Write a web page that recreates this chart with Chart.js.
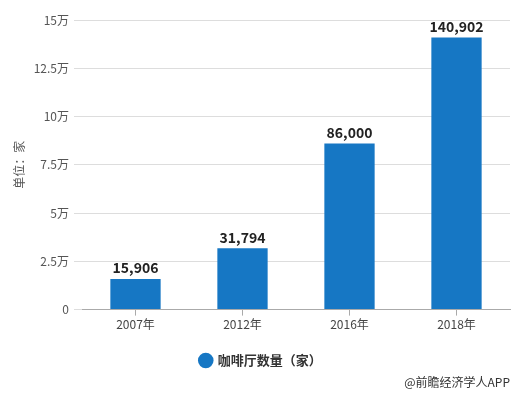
<!DOCTYPE html>
<html>
<head>
<meta charset="utf-8">
<script src="https://cdn.jsdelivr.net/npm/chart.js@4/dist/chart.umd.min.js"></script>
<style>
    html, body { margin: 0; padding: 0; background: #fff; }
    #wrap { position: relative; width: 517px; height: 395px; }
</style>
</head>
<body>
<div id="wrap"><canvas id="coffeeChart" width="517" height="395"></canvas></div>
<script>
// Chart data
const years = ['2007年', '2012年', '2016年', '2018年'];
const shopCounts = [15906, 31794, 86000, 140902];
const yTicks = [0, 25000, 50000, 75000, 100000, 125000, 150000];

const seriesName = '咖啡厅数量（家）';
const yTitle = '单位：家';
const sourceNote = '@前瞻经济学人APP';

const fontFamily = '"Microsoft YaHei", "Noto Sans CJK SC", "Noto Sans", sans-serif';

// Value labels above bars + source note
const labelPlugin = {
    id: 'barLabels',
    afterDatasetsDraw(chart) {
        const ctx = chart.ctx;
        const meta = chart.getDatasetMeta(0);
        ctx.save();
        ctx.font = 'bold 14px ' + fontFamily;
        ctx.textAlign = 'center';
        ctx.textBaseline = 'bottom';
        ctx.fillStyle = '#222';
        meta.data.forEach((bar, i) => {
            ctx.fillText(shopCounts[i].toLocaleString('en-US'), bar.x, bar.y - 4);
        });
        ctx.font = '12px ' + fontFamily;
        ctx.textAlign = 'right';
        ctx.textBaseline = 'middle';
        ctx.fillStyle = '#333';
        ctx.fillText(sourceNote, 510, 382);
        ctx.restore();
    }
};

new Chart(document.getElementById('coffeeChart'), {
    type: 'bar',
    data: {
        labels: years,
        datasets: [{
            label: seriesName,
            data: shopCounts,
            backgroundColor: '#1677c4',
            borderWidth: 0,
            categoryPercentage: 1,
            barPercentage: 0.47
        }]
    },
    options: {
        responsive: false,
        animation: false,
        layout: {
            padding: { top: 20, right: 7, bottom: 18, left: 12 }
        },
        plugins: {
            legend: {
                position: 'bottom',
                labels: {
                    usePointStyle: true,
                    pointStyle: 'circle',
                    boxWidth: 11,
                    boxHeight: 11,
                    padding: 20,
                    color: '#333',
                    font: { family: fontFamily, size: 13, weight: 'bold' }
                }
            },
            tooltip: { enabled: false }
        },
        scales: {
            x: {
                grid: {
                    offset: false,
                    drawOnChartArea: false,
                    drawTicks: true,
                    tickLength: 6,
                    color: '#aaa'
                },
                border: { color: '#aaa' },
                ticks: {
                    color: '#444',
                    padding: 2,
                    font: { family: fontFamily, size: 12 }
                }
            },
            y: {
                min: 0,
                max: 150000,
                afterBuildTicks(axis) {
                    axis.ticks = yTicks.map(v => ({ value: v }));
                },
                afterFit(axis) {
                    axis.width = 70;
                },
                grid: {
                    color: '#ddd',
                    drawTicks: true,
                    tickLength: 8
                },
                border: { display: false },
                ticks: {
                    color: '#555',
                    padding: 5,
                    font: { family: fontFamily, size: 12 },
                    callback: v => v === 0 ? '0' : (v / 10000) + '万'
                },
                title: {
                    display: true,
                    text: yTitle,
                    color: '#555',
                    padding: 0,
                    font: { family: fontFamily, size: 12 }
                }
            }
        }
    },
    plugins: [labelPlugin]
});
</script>
</body>
</html>
